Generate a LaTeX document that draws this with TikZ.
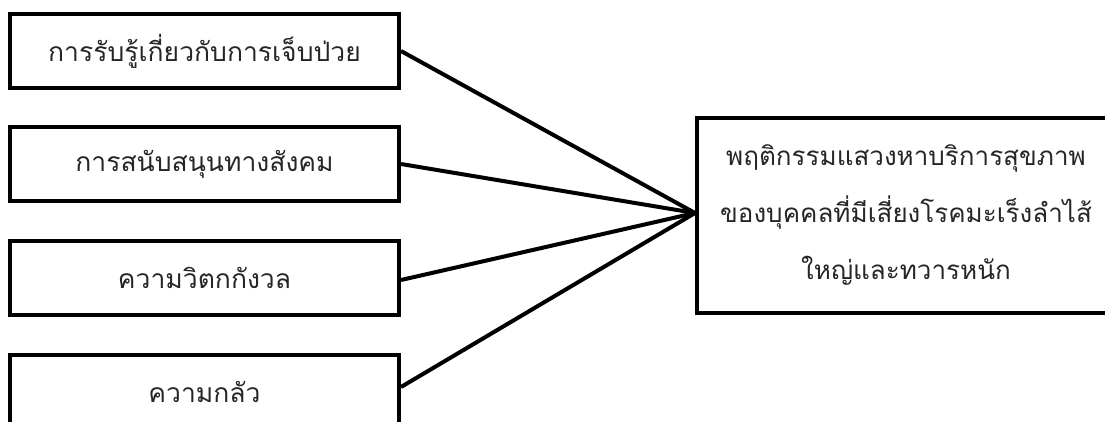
\documentclass[tikz,border=0pt]{standalone}
\usepackage{fontspec}
\newfontfamily\thaifont[Script=Thai]{Loma}
\begin{document}
\begin{tikzpicture}[x=1pt,y=-1pt,
  lbox/.style={draw=black,line width=4pt,minimum width=389pt,minimum height=74pt,inner sep=0pt,font=\thaifont\fontsize{26.5}{34}\selectfont,align=center,text=black!85},
  rbox/.style={draw=black,line width=4pt,minimum width=418pt,minimum height=195pt,inner sep=0pt,font=\thaifont\fontsize{26}{57}\selectfont,align=center,text=black!85},
  link/.style={line width=4pt,black}]
\useasboundingbox (0,0) rectangle (1105,421);
\clip (0,0) rectangle (1105,421);
\node[lbox] (b1) at (204.5,51) {การรับรู้เกี่ยวกับการเจ็บป่วย};
\node[lbox] (b2) at (204.5,164) {การสนับสนุนทางสังคม};
\node[lbox] (b3) at (204.5,277.5) {ความวิตกกังวล};
\node[lbox] (b4) at (204.5,392) {ความกลัว};
\node[rbox] (r) at (906,215.5) {พฤติกรรมแสวงหาบริการสุขภาพ\\ของบุคคลที่มีเสี่ยงโรคมะเร็งลำไส้\\ใหญ่และทวารหนัก};
\coordinate (m) at ([yshift=2.5pt]r.west);
\draw[link] (b1.east) -- (m);
\draw[link] (b2.east) -- (m);
\draw[link] ([yshift=-2.5pt]b3.east) -- (m);
\draw[link] ([yshift=5pt]b4.east) -- (m);
\end{tikzpicture}
\end{document}
